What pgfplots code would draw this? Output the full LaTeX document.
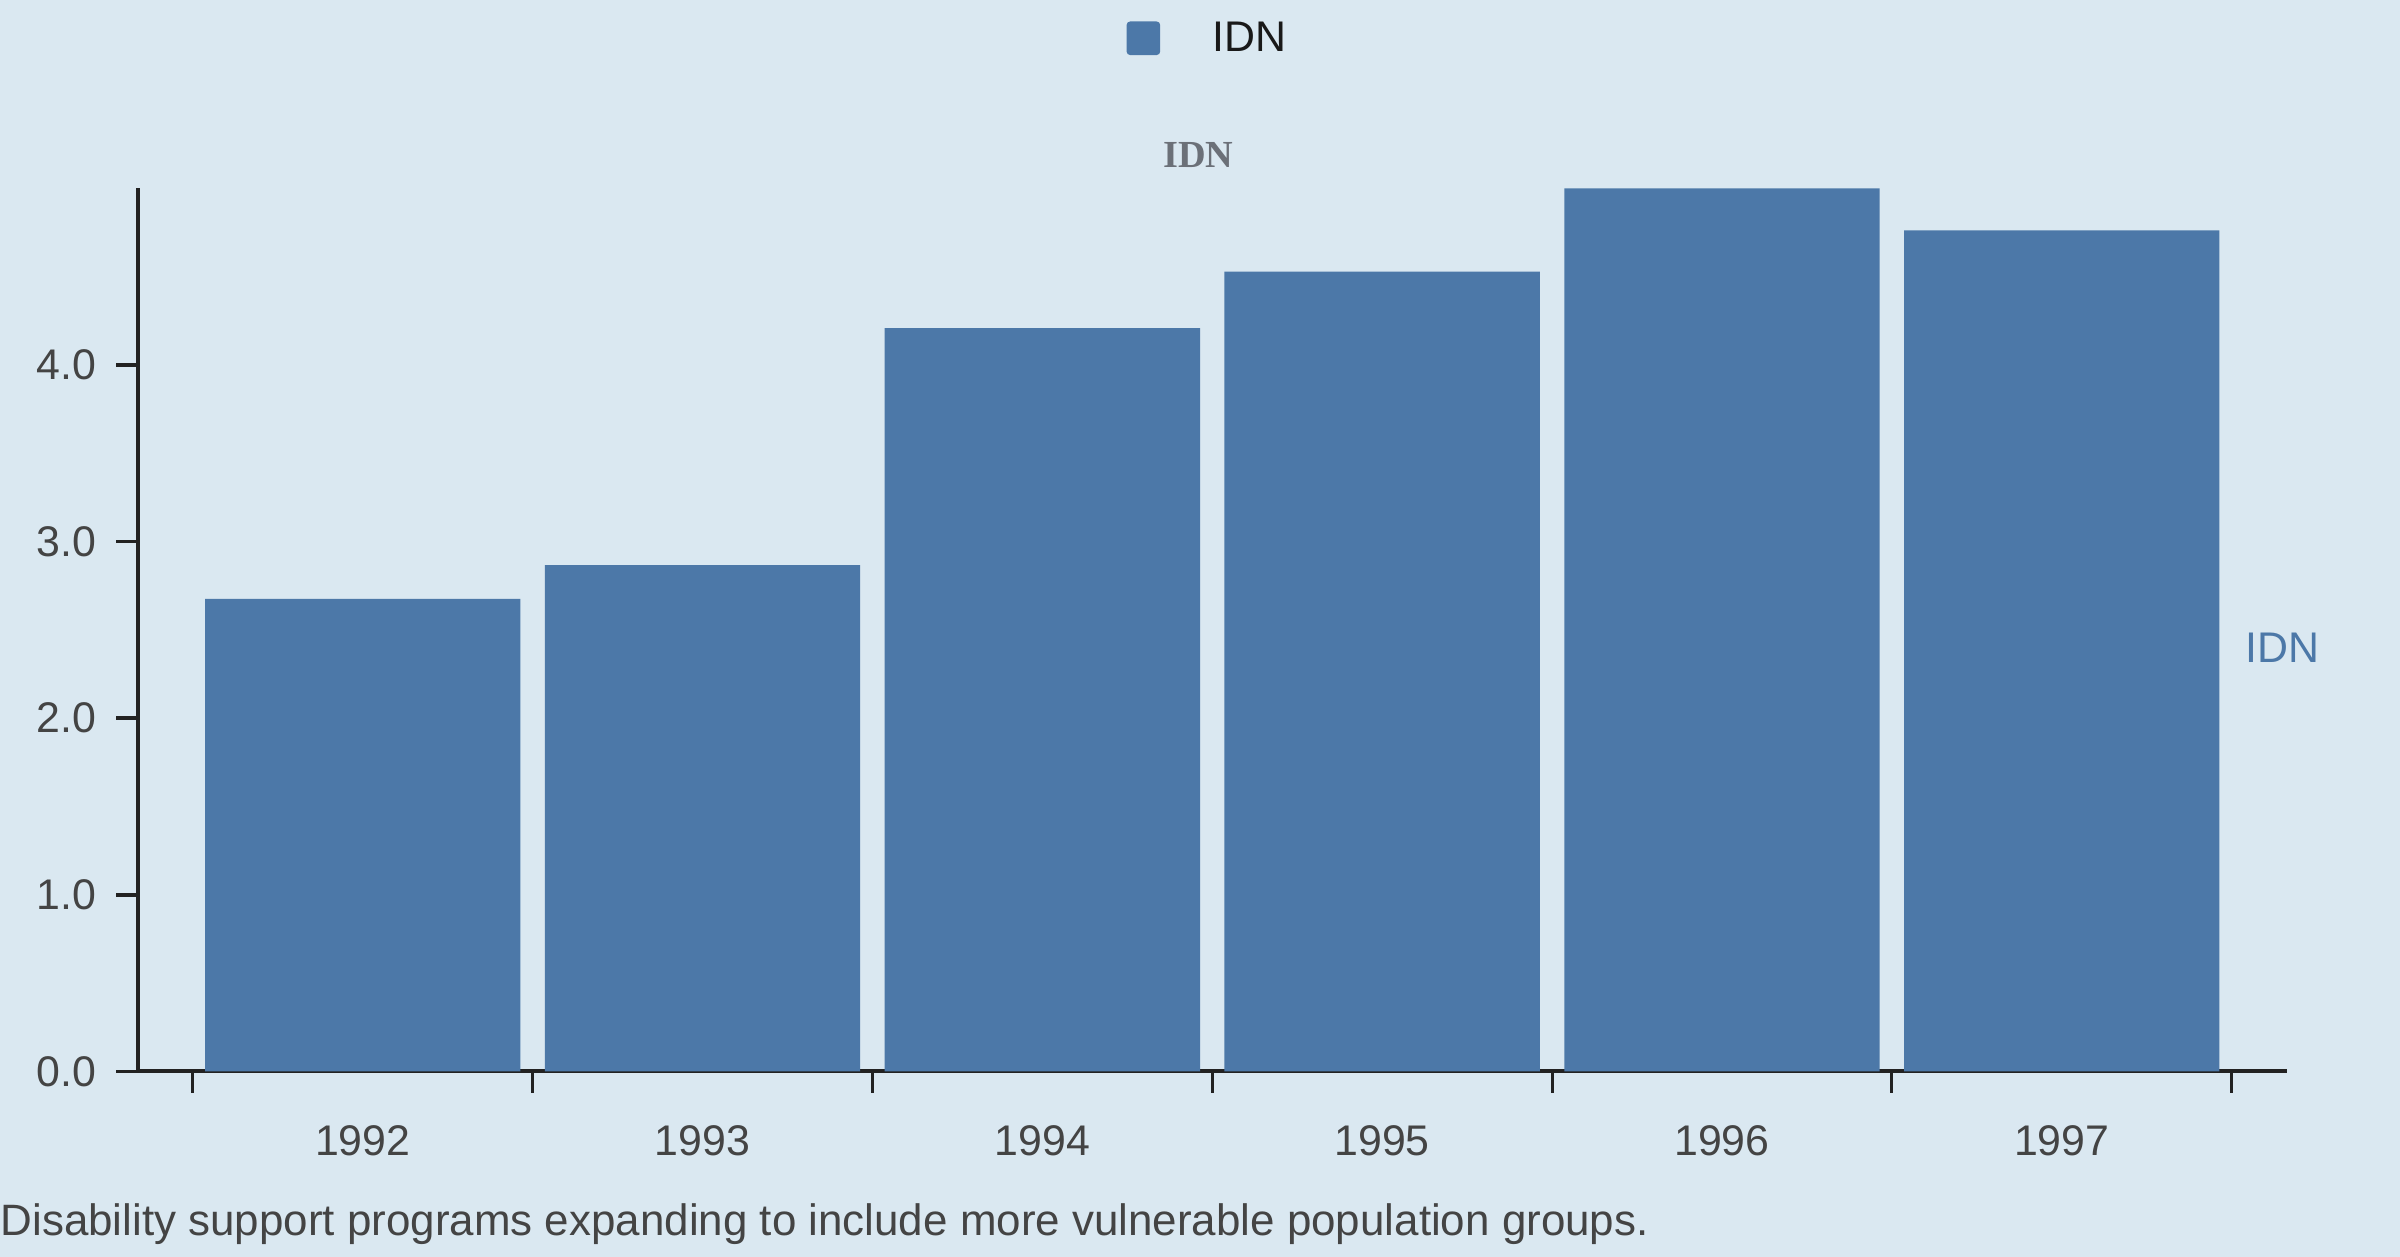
\documentclass[border=0pt]{standalone}
\usepackage{pgfplots}
\pgfplotsset{compat=1.18}
\usepackage{fontspec}
\setmainfont{Liberation Sans}
\newfontfamily\serifb{Liberation Serif}
\definecolor{bg}{HTML}{DAE8F1}
\definecolor{barc}{HTML}{4C78A8}
\definecolor{axisc}{HTML}{222222}
\definecolor{txt}{HTML}{444444}
\definecolor{ttl}{HTML}{6B7078}
\pgfplotstableread{
x year val
0 1992 2.675
1 1993 2.866
2 1994 4.208
3 1995 4.528
4 1996 5.000
5 1997 4.762
}\datatable
\begin{document}
\begin{tikzpicture}
\fill[bg] (0,0) rectangle (784pt,410.5pt);
\begin{axis}[
  at={(45pt,60.5pt)}, anchor=south west,
  scale only axis, width=702pt, height=288.5pt,
  xmin=-0.662, xmax=5.662, ymin=0, ymax=5,
  axis x line=bottom, axis y line=left,
  axis line style={axisc, line width=1.3pt, -},
  xtick={-0.5,0.5,1.5,2.5,3.5,4.5,5.5},
  xticklabels={},
  extra x ticks={0,1,2,3,4,5},
  extra x tick labels={1992,1993,1994,1995,1996,1997},
  extra x tick style={tick style={draw=none}, xticklabel style={yshift=-7pt}},
  ytick={0,1,2,3,4},
  y tick label style={/pgf/number format/fixed, /pgf/number format/fixed zerofill, /pgf/number format/precision=1},
  /pgf/number format/assume math mode=true,
  tick label style={font=\fontsize{14}{16}\selectfont, text=txt},
  x tick style={axisc, line width=1pt},
  y tick style={axisc, line width=1.2pt},
  major tick length=7pt,
  tick align=outside,
  yticklabel style={xshift=-3pt},
  clip=false,
]
\addplot[ybar, bar width=0.928, fill=barc, draw=none] table[x=x, y=val] {\datatable};
\node[anchor=west, text=barc, font=\fontsize{14}{16}\selectfont] at (axis cs:5.51,2.4) {IDN};
\end{axis}
\fill[barc, rounded corners=1.2pt] (368pt,392.5pt) rectangle (379pt,403.5pt);
\node[anchor=west, inner sep=0pt, text=black!90, font=\fontsize{14}{16}\selectfont] at (396pt,398.5pt) {IDN};
\node[text=ttl, font=\serifb\bfseries\fontsize{12.5}{14}\selectfont] at (391.5pt,360pt) {IDN};
\node[anchor=west, inner sep=0pt, text=txt, font=\fontsize{14.35}{16}\selectfont] at (0pt,10.5pt) {Disability support programs expanding to include more vulnerable population groups.};
\pgfresetboundingbox
\useasboundingbox (0,0) rectangle (784pt,410.5pt);
\end{tikzpicture}
\end{document}
